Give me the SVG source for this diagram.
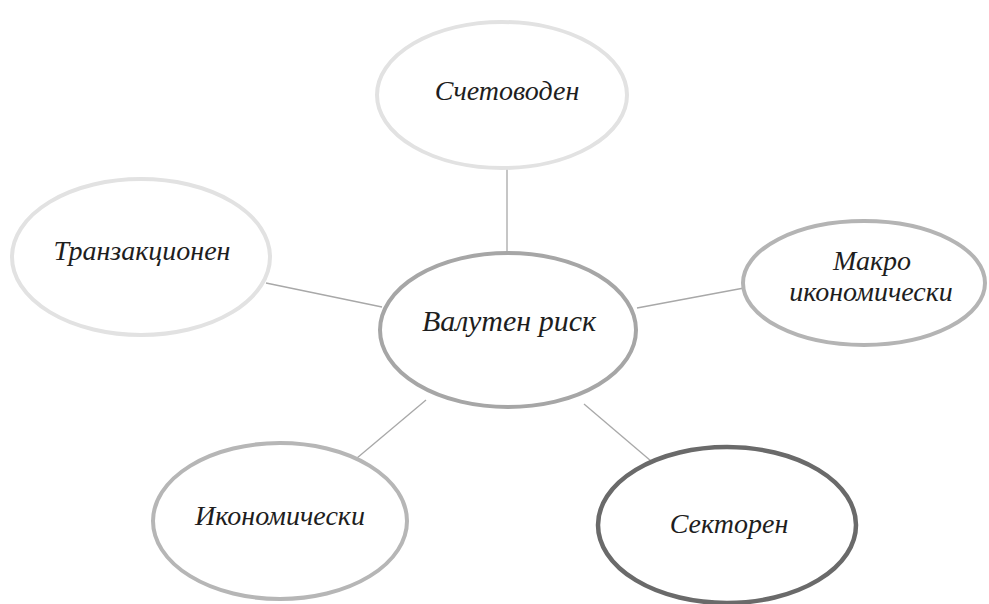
<svg xmlns="http://www.w3.org/2000/svg" width="989" height="604" viewBox="0 0 989 604">
<style>
.t{font-family:"Liberation Serif","DejaVu Serif",serif;font-style:italic;font-size:28px;fill:#1e1e1e;text-anchor:middle}
.big{font-size:30px}
ellipse{fill:#fff}
.c line{stroke:#a8a8a8;stroke-width:1.3}
</style>
<rect width="989" height="604" fill="#fff"/>
<g class="c" id="connectors">
<line x1="507" y1="168" x2="507" y2="255"/>
<line x1="266" y1="283" x2="382" y2="307"/>
<line x1="637" y1="308" x2="744" y2="288"/>
<line x1="426" y1="400" x2="357" y2="458"/>
<line x1="584" y1="404" x2="651" y2="461"/>
</g>
<g id="n-top"><ellipse cx="502" cy="95" rx="125" ry="73" stroke="#e2e2e2" stroke-width="4"/><text class="t" x="507" y="100">Счетоводен</text></g>
<g id="n-left"><ellipse cx="141" cy="257" rx="129" ry="78" stroke="#e2e2e2" stroke-width="4"/><text class="t" x="142" y="260">Транзакционен</text></g>
<g id="n-center"><ellipse cx="508" cy="330" rx="128" ry="77" stroke="#a6a6a6" stroke-width="4"/><text class="t big" x="509" y="331">Валутен риск</text></g>
<g id="n-right"><ellipse cx="864" cy="283" rx="121" ry="62" stroke="#b4b4b4" stroke-width="4"/><text class="t" x="872" y="270">Макро</text><text class="t" x="871" y="301">икономически</text></g>
<g id="n-bl"><ellipse cx="280" cy="521" rx="127" ry="78" stroke="#b6b6b6" stroke-width="4"/><text class="t" x="280" y="525">Икономически</text></g>
<g id="n-br"><ellipse cx="727" cy="525" rx="129" ry="78" stroke="#6a6a6a" stroke-width="4.5"/><text class="t" x="729" y="533">Секторен</text></g>
</svg>
